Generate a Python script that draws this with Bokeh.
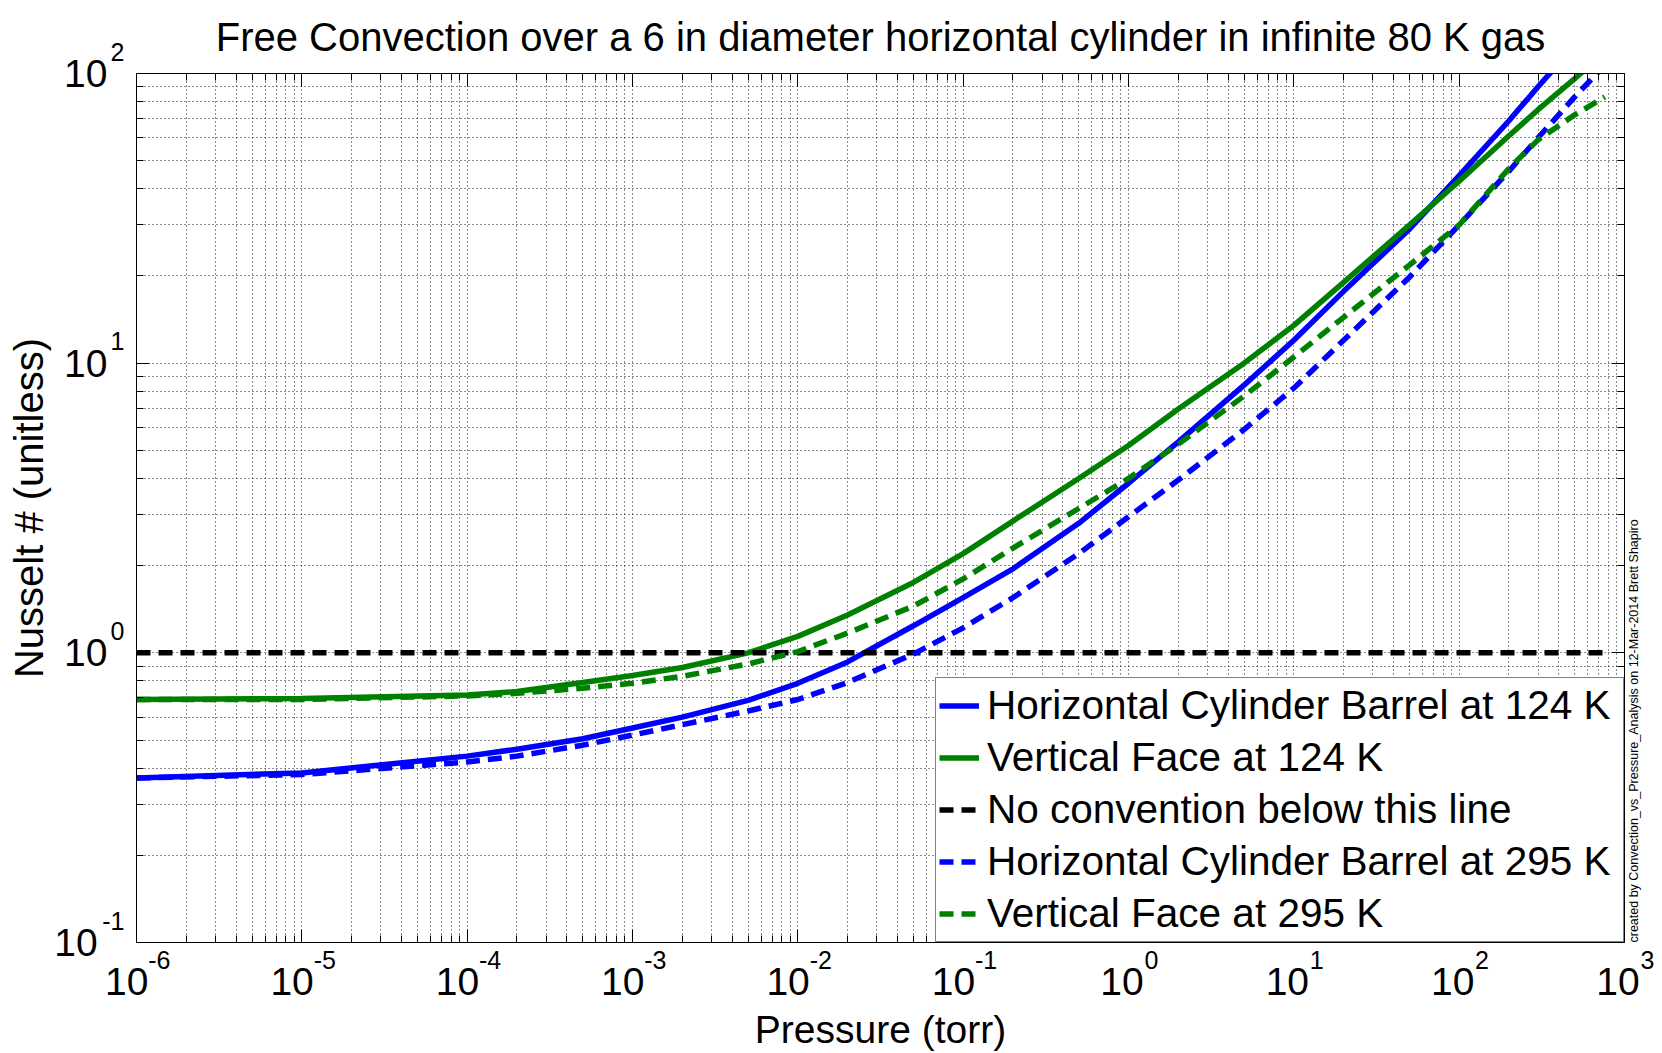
import math

from bokeh.embed import file_html
from bokeh.models import (ColumnDataSource, CustomJSTickFormatter, FixedTicker,
                          Legend, LegendItem, LinearAxis, LogAxis, Range1d)
from bokeh.plotting import figure
from bokeh.resources import INLINE

# ---- data -------------------------------------------------------------
pressure_torr = [1e-6, 1e-5, 1e-4, 2e-4, 5e-4, 1e-3, 2e-3, 5e-3, 1e-2, 2e-2,
                 5e-2, 1e-1, 2e-1, 5e-1, 1, 2, 5, 10, 20, 50, 100, 200, 300,
                 500, 760]
nu_barrel_124 = [0.37, 0.385, 0.44, 0.465, 0.505, 0.55, 0.60, 0.685, 0.785,
                 0.93, 1.24, 1.55, 1.95, 2.8, 3.85, 5.35, 8.4, 12, 17.7, 29,
                 44.4, 68.7, 90, 125, 164]
nu_face_124 = [0.69, 0.695, 0.715, 0.735, 0.79, 0.835, 0.89, 1.0, 1.14,
               1.35, 1.75, 2.2, 2.85, 4.0, 5.2, 6.95, 10.0, 13.5, 19, 30,
               42.5, 61, 75, 96, 119]
nu_barrel_295 = [0.37, 0.38, 0.42, 0.44, 0.48, 0.52, 0.565, 0.63, 0.69, 0.79,
                 0.99, 1.22, 1.55, 2.2, 2.95, 3.95, 5.9, 8.2, 12, 19.8, 30,
                 46, 60, 83, 107]
nu_face_295 = [0.69, 0.69, 0.71, 0.725, 0.755, 0.785, 0.83, 0.915, 1.01,
               1.17, 1.45, 1.8, 2.3, 3.15, 4.0, 5.25, 7.7, 10.5, 14.4, 21.8,
               30, 47, 59, 72, 83]
nu_onset = [1.0] * len(pressure_torr)

x_exponents = [-6, -5, -4, -3, -2, -1, 0, 1, 2, 3]
y_exponents = [-1, 0, 1, 2]

TITLE = "Free Convection over a 6 in diameter horizontal cylinder in infinite 80 K gas"
X_LABEL = "Pressure (torr)"
Y_LABEL = "Nusselt # (unitless)"
CREDIT = "created by Convection_vs_Pressure_Analysis on 12-Mar-2014 Brett Shapiro"

FONT = "Liberation Sans"
BLUE = "#0000ff"
GREEN = "#008000"

# ---- figure -----------------------------------------------------------
x_lo, x_hi = 10.0 ** x_exponents[0], 10.0 ** x_exponents[-1]
y_lo, y_hi = 10.0 ** y_exponents[0], 10.0 ** y_exponents[-1]

p = figure(width=1662, height=1053, x_axis_type="log", y_axis_type="log",
           x_range=(x_lo, x_hi), y_range=(y_lo, y_hi),
           output_backend="svg", toolbar_location=None,
           min_border_left=136, min_border_right=38,
           min_border_top=73, min_border_bottom=110)
p.background_fill_color = "white"
p.border_fill_color = "white"
p.outline_line_color = "black"
p.outline_line_width = 1

p.title.text = TITLE
p.title.text_font = FONT
p.title.text_font_size = "40px"
p.title.text_font_style = "normal"
p.title.text_color = "black"
p.title.align = "center"
p.title.vertical_align = "top"
p.title.offset = -7
p.title.standoff = 25


def decade_ticks(exps):
    major = [10.0 ** e for e in exps]
    minor = [m * 10.0 ** e for e in exps[:-1] for m in range(2, 10)]
    return major, minor


x_major, x_minor = decade_ticks(x_exponents)
y_major, y_minor = decade_ticks(y_exponents)
x_ticker = FixedTicker(ticks=x_major, minor_ticks=x_minor)
y_ticker = FixedTicker(ticks=y_major, minor_ticks=y_minor)
x_label_ticker = FixedTicker(ticks=x_major, minor_ticks=[])
y_label_ticker = FixedTicker(ticks=y_major, minor_ticks=[])

blank = CustomJSTickFormatter(code="return ''")


def frame_axis(ax, ticker):
    """Axis drawn on the plot box: black line, inward ticks."""
    ax.ticker = ticker
    ax.axis_line_color = "black"
    ax.major_tick_line_color = "black"
    ax.minor_tick_line_color = "black"
    ax.major_tick_in = 13
    ax.major_tick_out = 0
    ax.minor_tick_in = 7
    ax.minor_tick_out = 0
    ax.major_label_text_font = FONT
    ax.major_label_text_color = "black"


def label_axis(ax, ticker):
    """Axis that only carries text (no line, no ticks)."""
    ax.ticker = ticker
    ax.axis_line_color = None
    ax.major_tick_line_color = None
    ax.minor_tick_line_color = None
    ax.major_tick_in = 0
    ax.major_tick_out = 0
    ax.minor_tick_in = 0
    ax.minor_tick_out = 0
    ax.major_label_text_font = FONT
    ax.major_label_text_color = "black"
    ax.axis_label_text_font = FONT
    ax.axis_label_text_font_style = "normal"
    ax.axis_label_text_color = "black"


# power-of-ten tick labels: "10" and a raised exponent as two text rows
BASE_FS = 39
EXP_FS = 25
GAP = 2
NBSP = "\u00a0"
CHAR_EM = {"-": 0.333}
SPACES = [(1.0, "\u2003"), (0.5, "\u2002"), (1 / 3, "\u2004"),
          (0.25, "\u2005"), (1 / 6, "\u2006")]


def em_width(s):
    return sum(CHAR_EM.get(c, 0.556) for c in s)


def pad(width_px, fs):
    """Run of fixed-width space characters close to width_px."""
    em = width_px / fs
    out = []
    for size, ch in SPACES:
        while em >= size - 1 / 24:
            out.append(ch)
            em -= size
    return "".join(out)


base_w = em_width("10") * BASE_FS

x_base_text, x_exp_text = {}, {}
for e in x_exponents:
    et = str(e)
    ew = em_width(et) * EXP_FS
    x_base_text[10.0 ** e] = "10" + pad(GAP + ew, BASE_FS)
    x_exp_text[10.0 ** e] = pad(base_w + GAP, EXP_FS) + et

widest_y_exp = max(em_width(str(e)) for e in y_exponents) * EXP_FS
y_base_text, y_exp_text = {}, {}
for e in y_exponents:
    et = str(e)
    extra = widest_y_exp - em_width(et) * EXP_FS
    y_base_text[10.0 ** e] = "10" + pad(widest_y_exp - em_width("1") * EXP_FS - extra, BASE_FS)
    y_exp_text[10.0 ** e] = et + "\n" + NBSP

# bottom: box axis carries exponents, a second axis carries "10" and the title
xb = p.xaxis[0]
frame_axis(xb, x_ticker)
xb.major_label_overrides = x_exp_text
xb.major_label_text_font_size = f"{EXP_FS}px"
xb.major_label_standoff = 3

xb10 = LogAxis()
label_axis(xb10, x_label_ticker)
xb10.major_label_overrides = x_base_text
xb10.major_label_text_font_size = f"{BASE_FS}px"
xb10.major_label_standoff = -17
xb10.axis_label = X_LABEL
xb10.axis_label_text_font_size = "39px"
xb10.axis_label_standoff = 2
p.add_layout(xb10, "below")

# left: box axis carries exponents, a second axis carries "10" and the title
yl = p.yaxis[0]
frame_axis(yl, y_ticker)
yl.major_label_overrides = y_exp_text
yl.major_label_text_font_size = f"{EXP_FS}px"
yl.major_label_text_line_height = 1.55
yl.major_label_standoff = 12

yl10 = LogAxis()
label_axis(yl10, y_label_ticker)
yl10.major_label_overrides = y_base_text
yl10.major_label_text_font_size = f"{BASE_FS}px"
yl10.major_label_standoff = -8
yl10.axis_label = Y_LABEL
yl10.axis_label_text_font_size = "40px"
yl10.axis_label_standoff = 0
p.add_layout(yl10, "left")

# top and right sides of the box: ticks only
top_axis = LogAxis()
frame_axis(top_axis, x_ticker)
top_axis.formatter = blank
top_axis.major_label_text_font_size = "1px"
top_axis.major_label_standoff = 0
p.add_layout(top_axis, "above")

right_axis = LogAxis()
frame_axis(right_axis, y_ticker)
right_axis.formatter = blank
right_axis.major_label_text_font_size = "1px"
right_axis.major_label_standoff = 0
p.add_layout(right_axis, "right")

# author credit running up the right edge, starting at the bottom of the box
p.extra_y_ranges = {"credit": Range1d(1, 10)}
credit_axis = LinearAxis(y_range_name="credit")
label_axis(credit_axis, FixedTicker(ticks=[1], minor_ticks=[]))
credit_axis.major_label_overrides = {1: CREDIT}
credit_axis.major_label_orientation = math.pi / 2
credit_axis.major_label_text_font_size = "12.5px"
credit_axis.major_label_standoff = 9
p.add_layout(credit_axis, "right")

for grid, ticker in ((p.xgrid[0], x_ticker), (p.ygrid[0], y_ticker)):
    grid.ticker = ticker
    grid.grid_line_color = "black"
    grid.grid_line_alpha = 0.9
    grid.grid_line_dash = "1 3"
    grid.minor_grid_line_color = "black"
    grid.minor_grid_line_alpha = 0.9
    grid.minor_grid_line_dash = "1 3"

# ---- curves -----------------------------------------------------------
src = ColumnDataSource(dict(p=pressure_torr, hc124=nu_barrel_124,
                            vf124=nu_face_124, onset=nu_onset,
                            hc295=nu_barrel_295, vf295=nu_face_295))
LW = 5.5
DASH = "14 8"
r_hc124 = p.line("p", "hc124", source=src, line_color=BLUE, line_width=LW)
r_vf124 = p.line("p", "vf124", source=src, line_color=GREEN, line_width=LW)
r_onset = p.line("p", "onset", source=src, line_color="black", line_width=LW,
                 line_dash=DASH)
r_hc295 = p.line("p", "hc295", source=src, line_color=BLUE, line_width=LW,
                 line_dash=DASH)
r_vf295 = p.line("p", "vf295", source=src, line_color=GREEN, line_width=LW,
                 line_dash=DASH)

legend = Legend(items=[
    LegendItem(label="Horizontal Cylinder Barrel at 124 K", renderers=[r_hc124]),
    LegendItem(label="Vertical Face at 124 K", renderers=[r_vf124]),
    LegendItem(label="No convention below this line", renderers=[r_onset]),
    LegendItem(label="Horizontal Cylinder Barrel at 295 K", renderers=[r_hc295]),
    LegendItem(label="Vertical Face at 295 K", renderers=[r_vf295]),
], location="bottom_right")
legend.margin = 0
legend.padding = 3
legend.spacing = 3
legend.glyph_width = 40
legend.glyph_height = 49
legend.label_standoff = 8
legend.label_width = 633
legend.label_text_font = FONT
legend.label_text_font_size = "40.5px"
legend.label_text_color = "black"
legend.border_line_color = "black"
legend.border_line_width = 1
legend.background_fill_color = "white"
legend.background_fill_alpha = 1.0
p.add_layout(legend, "center")

open("out.html", "w").write(file_html(p, INLINE))
